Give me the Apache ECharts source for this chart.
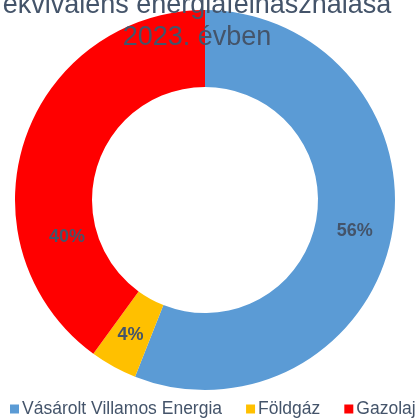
<!DOCTYPE html>
<html>
<head>
<meta charset="utf-8">
<script src="https://cdn.jsdelivr.net/npm/echarts@6/dist/echarts.min.js"></script>
<style>
  html, body { margin: 0; padding: 0; background: #fff; }
  #chart { width: 418px; height: 420px; }
</style>
</head>
<body>
<div id="chart"></div>
<script>
// data
const categories = ['Vásárolt Villamos Energia', 'Földgáz', 'Gazolaj']
const shares = [56, 4, 40]
const colors = ['#5B9BD5', '#FFC000', '#FF0000']
// Excel had the labels nudged a bit from the slice middle
const labelNudge = [[-2, 2], [0, 0], [9, 85]]

const textColor = '#44546A'
const font = 'Liberation Sans, Arial, sans-serif'

const chart = echarts.init(document.getElementById('chart'))

chart.setOption({
  animation: false,
  title: {
    text: 'ekvivalens energiafelhasználása\n2023. évben',
    left: 197,
    textAlign: 'center',
    top: -10,
    padding: 0,
    textStyle: {
      fontFamily: font,
      fontSize: 27,
      fontWeight: 'normal',
      lineHeight: 32,
      color: textColor,
    },
  },
  legend: {
    data: categories,
    left: 10,
    width: 410,
    bottom: 2,
    padding: 0,
    icon: 'rect',
    itemWidth: 9,
    itemHeight: 9,
    itemGap: 24,
    textStyle: {
      fontFamily: font,
      fontSize: 17.5,
      color: textColor,
      padding: [0, 0, 0, -2],
    },
  },
  series: [
    {
      type: 'pie',
      center: [205, 200],
      radius: [113, 190],
      startAngle: 90,
      clockwise: true,
      z: 1,
      label: {
        show: true,
        position: 'inside',
        formatter: '{c}%',
        fontFamily: font,
        fontSize: 18,
        fontWeight: 'bold',
        color: textColor,
      },
      labelLine: { show: false },
      emphasis: { disabled: true },
      data: categories.map((name, i) => ({
        name: name,
        value: shares[i],
        itemStyle: { color: colors[i] },
        label: { offset: labelNudge[i] },
      })),
    },
  ],
})
</script>
</body>
</html>
